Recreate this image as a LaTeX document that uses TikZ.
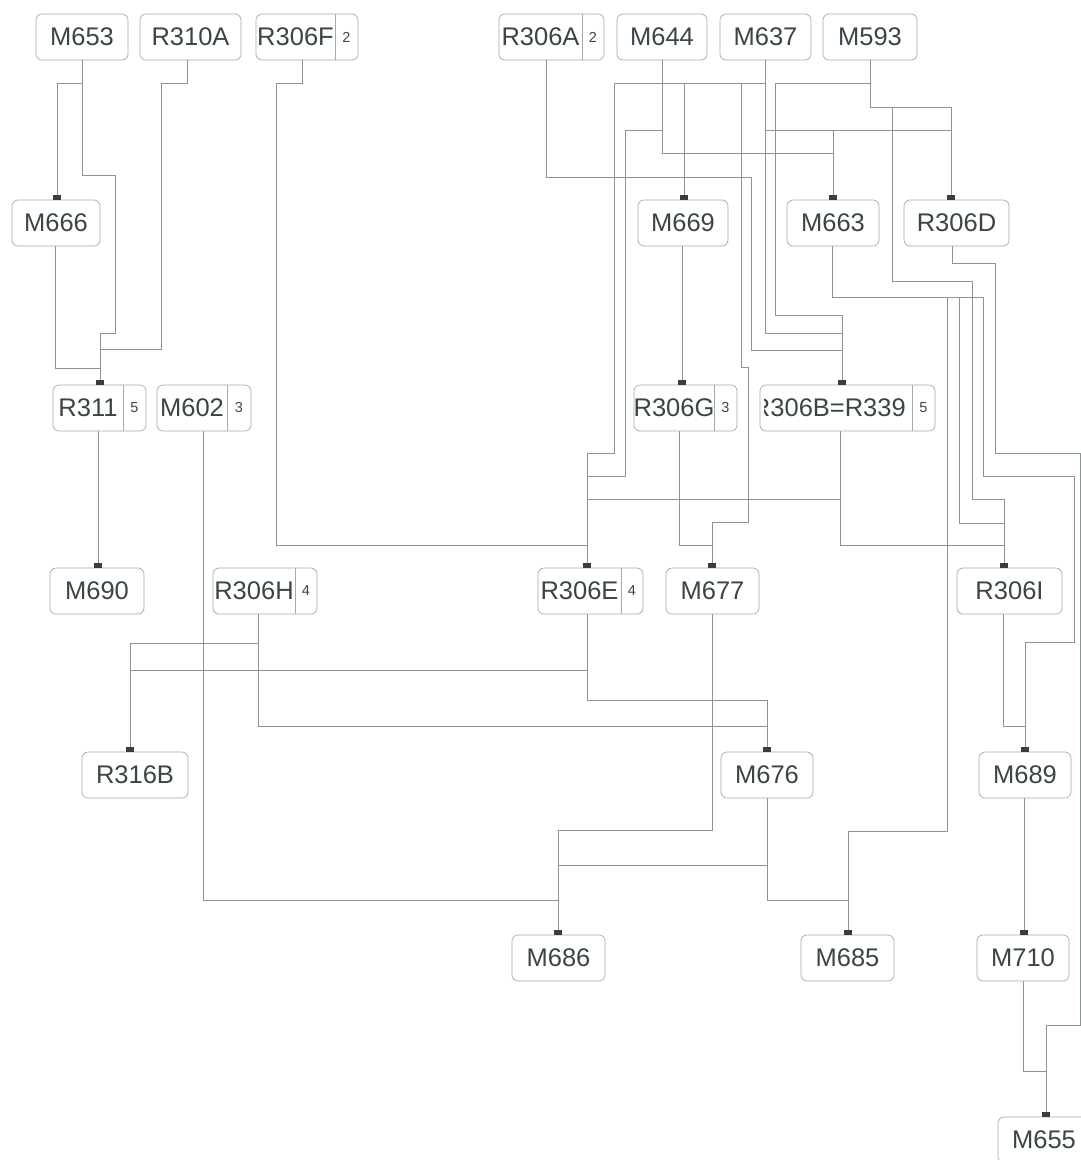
\documentclass[tikz,border=0pt]{standalone}
\usepackage{fontspec}
\setmainfont{Liberation Sans}
\usetikzlibrary{arrows.meta}
\definecolor{boxc}{RGB}{165,170,170}
\definecolor{wirec}{RGB}{140,148,148}
\definecolor{txtc}{RGB}{58,70,70}
\definecolor{sqc}{RGB}{55,62,62}
% #1 name, #2 left, #3 divider, #4 right, #5 y centre, #6 text, #7 badge
\newcommand\badgebox[7]{%
  \node[box, minimum width={#4-#2}] (#1) at ({(#2+#4)/2},#5) {};
  \node[txt] (#1-t) at ({(#2+#3)/2},#5) {#6};
  \draw[divl] (#3,#5-23) -- (#3,#5+23);
  \node[bdg] (#1-b) at ({(#3+#4)/2},#5) {#7};
}
\begin{document}
\begin{tikzpicture}[x=1pt,y=-1pt,
  box/.style={draw=boxc, line width=0.7pt, rounded corners=6pt, minimum height=46pt, inner sep=0pt, text=txtc, font=\fontsize{25.5}{30}\selectfont},
  txt/.style={inner sep=0pt, text=txtc, font=\fontsize{25.5}{30}\selectfont},
  bdg/.style={inner sep=0pt, text=txtc, font=\fontsize{14.5}{16}\selectfont},
  divl/.style={draw=boxc, line width=0.7pt},
  wire/.style={draw=wirec, line width=0.6pt, -{Square[length=5pt,width=8pt,color=sqc]}}]
\fill[white] (0,0) rectangle (1081,1160);
\useasboundingbox (0,0) rectangle (1081,1160);

% row 1
\node[box, minimum width=92] (m653) at (82,37) {M653};
\node[box, minimum width=101] (r310a) at (190.5,37) {R310A};
\badgebox{r306f}{256}{335}{358}{37}{R306F}{2}
\badgebox{r306a}{499}{582}{604}{37}{R306A}{2}
\node[box, minimum width=90] (m644) at (662,37) {M644};
\node[box, minimum width=91] (m637) at (765.5,37) {M637};
\node[box, minimum width=94] (m593) at (870,37) {M593};
% row 2
\node[box, minimum width=88] (m666) at (56,223) {M666};
\node[box, minimum width=90] (m669) at (683,223) {M669};
\node[box, minimum width=92] (m663) at (833,223) {M663};
\node[box, minimum width=105] (r306d) at (956.5,223) {R306D};
% row 3
\badgebox{r311}{53}{123}{146}{408}{R311}{5}
\badgebox{m602}{157}{227}{251}{408}{M602}{3}
\badgebox{r306g}{634}{714}{737}{408}{R306G}{3}
\node[box, minimum width=175] (r306b) at (847.5,408) {};
\begin{scope}
  \clip (764,385) rectangle (912,431);
  \node[txt, anchor=east] (r306b-t) at (906,408) {R306B=R339};
\end{scope}
\draw[divl] (912,385) -- (912,431);
\node[bdg] (r306b-b) at (923.5,408) {5};
% row 4
\node[box, minimum width=94] (m690) at (97,591) {M690};
\badgebox{r306h}{213}{295}{317}{591}{R306H}{4}
\badgebox{r306e}{538}{621}{643}{591}{R306E}{4}
\node[box, minimum width=93] (m677) at (712.5,591) {M677};
\node[box, minimum width=105] (r306i) at (1009.5,591) {R306I};
% row 5
\node[box, minimum width=106] (r316b) at (135,775) {R316B};
\node[box, minimum width=92] (m676) at (767,775) {M676};
\node[box, minimum width=92] (m689) at (1025,775) {M689};
% row 6
\node[box, minimum width=93] (m686) at (558.5,958) {M686};
\node[box, minimum width=93] (m685) at (847.5,958) {M685};
\node[box, minimum width=92] (m710) at (1023,958) {M710};
% row 7
\node[box, minimum width=92] (m655) at (1044,1140) {M655};

% connectors
\draw[wire] (m653.south -| 82,0) -- (82,83) -- (57,83) -- (m666.north -| 57,0);
\draw[wire] (m653.south -| 82,0) -- (82,175) -- (115,175) -- (115,333) -- (100,333) -- (r311.north -| 100,0);
\draw[wire] (r310a.south -| 187,0) -- (187,83) -- (161,83) -- (161,349) -- (100,349) -- (r311.north -| 100,0);
\draw[wire] (m666.south -| 55,0) -- (55,368) -- (100,368) -- (r311.north -| 100,0);
\draw[wire] (r311.south -| 98,0) -- (m690.north -| 98,0);
\draw[wire] (r306f.south -| 302,0) -- (302,83) -- (276,83) -- (276,545) -- (587,545) -- (r306e.north -| 587,0);
\draw[wire] (m602.south -| 203,0) -- (203,900) -- (558,900) -- (m686.north -| 558,0);
\draw[wire] (r306a.south -| 546,0) -- (546,177) -- (751,177) -- (751,350) -- (842,350) -- (r306b.north -| 842,0);
\draw[wire] (m644.south -| 662,0) -- (662,130) -- (625,130) -- (625,476) -- (587,476) -- (r306e.north -| 587,0);
\draw[wire] (m644.south -| 662,0) -- (662,153) -- (833,153) -- (m663.north -| 833,0);
\draw[wire] (m637.south -| 765,0) -- (765,83) -- (614,83) -- (614,453) -- (587,453) -- (r306e.north -| 587,0);
\draw[wire] (m637.south -| 765,0) -- (765,83) -- (684,83) -- (m669.north -| 684,0);
\draw[wire] (m637.south -| 765,0) -- (765,83) -- (741,83) -- (741,367) -- (748,367) -- (748,522) -- (712,522) -- (m677.north -| 712,0);
\draw[wire] (m637.south -| 765,0) -- (765,333) -- (842,333) -- (r306b.north -| 842,0);
\draw[wire] (m637.south -| 765,0) -- (765,130) -- (833,130) -- (m663.north -| 833,0);
\draw[wire] (m637.south -| 765,0) -- (765,130) -- (951,130) -- (r306d.north -| 951,0);
\draw[wire] (m593.south -| 870,0) -- (870,83) -- (775,83) -- (775,315) -- (842,315) -- (r306b.north -| 842,0);
\draw[wire] (m593.south -| 870,0) -- (870,107) -- (951,107) -- (r306d.north -| 951,0);
\draw[wire] (m593.south -| 870,0) -- (870,107) -- (892,107) -- (892,281) -- (972,281) -- (972,499) -- (1004,499) -- (r306i.north -| 1004,0);
\draw[wire] (m669.south -| 682,0) -- (r306g.north -| 682,0);
\draw[wire] (m663.south -| 832,0) -- (832,297) -- (947,297) -- (947,831) -- (848,831) -- (m685.north -| 848,0);
\draw[wire] (m663.south -| 832,0) -- (832,297) -- (959,297) -- (959,523) -- (1004,523) -- (r306i.north -| 1004,0);
\draw[wire] (m663.south -| 832,0) -- (832,297) -- (983,297) -- (983,476) -- (1074,476) -- (1074,642) -- (1025,642) -- (m689.north -| 1025,0);
\draw[wire] (r306d.south -| 952,0) -- (952,263) -- (995,263) -- (995,453) -- (1080,453) -- (1080,1025) -- (1046,1025) -- (m655.north -| 1046,0);
\draw[wire] (r306g.south -| 679,0) -- (679,545) -- (712,545) -- (m677.north -| 712,0);
\draw[wire] (r306b.south -| 840,0) -- (840,499) -- (587,499) -- (r306e.north -| 587,0);
\draw[wire] (r306b.south -| 840,0) -- (840,545) -- (1004,545) -- (r306i.north -| 1004,0);
\draw[wire] (r306h.south -| 258,0) -- (258,643) -- (130,643) -- (r316b.north -| 130,0);
\draw[wire] (r306h.south -| 258,0) -- (258,726) -- (767,726) -- (m676.north -| 767,0);
\draw[wire] (r306e.south -| 587,0) -- (587,670) -- (130,670) -- (r316b.north -| 130,0);
\draw[wire] (r306e.south -| 587,0) -- (587,700) -- (767,700) -- (m676.north -| 767,0);
\draw[wire] (m677.south -| 712,0) -- (712,830) -- (558,830) -- (m686.north -| 558,0);
\draw[wire] (r306i.south -| 1003,0) -- (1003,726) -- (1025,726) -- (m689.north -| 1025,0);
\draw[wire] (m676.south -| 767,0) -- (767,865) -- (558,865) -- (m686.north -| 558,0);
\draw[wire] (m676.south -| 767,0) -- (767,900) -- (848,900) -- (m685.north -| 848,0);
\draw[wire] (m689.south -| 1024,0) -- (m710.north -| 1024,0);
\draw[wire] (m710.south -| 1023,0) -- (1023,1071) -- (1046,1071) -- (m655.north -| 1046,0);
\end{tikzpicture}
\end{document}
